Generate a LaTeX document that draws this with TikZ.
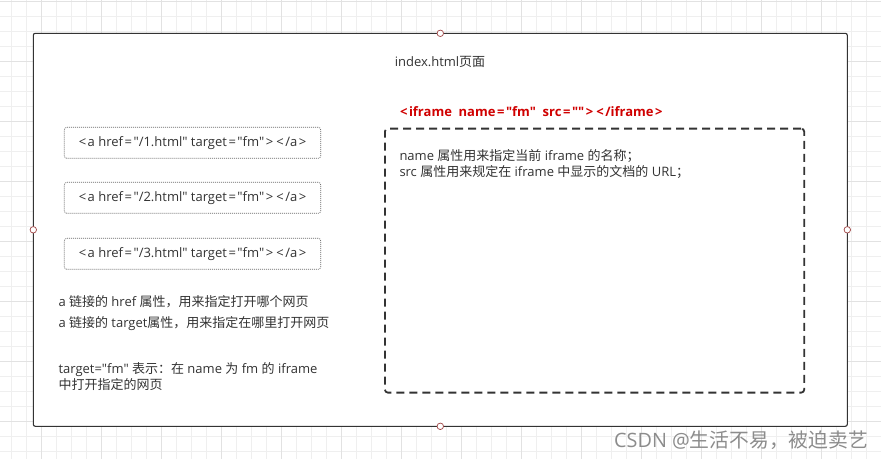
\documentclass[tikz,border=0pt]{standalone}
\usepackage{fontspec}
\setmainfont{Open Sans}[Ligatures=TeXOff]
\newfontfamily\cjk{Noto Sans CJK SC}[Ligatures=TeXOff]
\newcommand{\zh}[1]{{\cjk #1}}
\newcommand{\ws}[1]{\makebox[10.5pt]{#1}}
\definecolor{txt}{HTML}{333333}
\definecolor{gridminor}{HTML}{EFEFEF}
\definecolor{gridmajor}{HTML}{E2E2E2}
\definecolor{portred}{HTML}{A04545}
\definecolor{ifred}{HTML}{D00000}
\definecolor{wm}{HTML}{8C8C8C}
\tikzset{
  gminor/.style={draw=gridminor, line width=0.8pt},
  gmajor/.style={draw=gridmajor, line width=0.9pt},
  pagebox/.style={draw=txt, fill=white, line width=1.1pt, rounded corners=2pt, inner sep=0pt, outer sep=0pt},
  port/.style={circle, draw=portred, fill=white, line width=0.7pt, minimum size=6.5pt, inner sep=0pt},
  linkbox/.style={draw=black!60, dash pattern=on 1pt off 1pt, line width=0.7pt, rounded corners=2.5pt,
     minimum width=256.4pt, minimum height=31pt, inner sep=0pt, text=txt, font=\fontsize{13}{15}\selectfont},
  framebox/.style={draw=txt, dash pattern=on 8pt off 5pt, line width=1.8pt, rounded corners=3pt,
     minimum width=419.3pt, minimum height=264pt, inner sep=0pt},
  plain/.style={text=txt, inner sep=0pt, align=left, font=\fontsize{13}{16}\selectfont},
}
\begin{document}
\begin{tikzpicture}[x=1pt,y=-1pt]
\useasboundingbox (0,0) rectangle (881,459);
\fill[white] (0,0) rectangle (881,459);
% grid
\foreach \i in {0,...,58} \draw[gminor] (11.7+15*\i,0) -- (11.7+15*\i,459);
\foreach \i in {0,...,30} \draw[gminor] (0,1.7+15*\i) -- (881,1.7+15*\i);
\foreach \i in {0,...,13} \draw[gmajor] (41.7+60*\i,0) -- (41.7+60*\i,459);
\foreach \i in {0,...,7} \draw[gmajor] (0,1.7+60*\i) -- (881,1.7+60*\i);
% page
\node[pagebox, minimum width=814pt, minimum height=393pt, anchor=north west] (page) at (33.3,33.3) {};
\node[port] (pn) at (page.north) {};
\node[port] (ps) at (page.south) {};
\node[port] (pw) at (page.west) {};
\node[port] (pe) at (page.east) {};
\node[plain] (title) at (440,62) {index.html\zh{页面}};
% links
\node[linkbox] (l1) at (192.5,142.8) {\ws{<}a href\ws{=}"/1.html" target\ws{=}"fm"\ws{>}\ws{<}/a\ws{>}};
\node[linkbox] (l2) at (192.5,197.8) {\ws{<}a href\ws{=}"/2.html" target\ws{=}"fm"\ws{>}\ws{<}/a\ws{>}};
\node[linkbox] (l3) at (192.5,253.8) {\ws{<}a href\ws{=}"/3.html" target\ws{=}"fm"\ws{>}\ws{<}/a\ws{>}};
% iframe
\node[anchor=west, text=ifred, inner sep=0pt, font=\fontsize{13}{15}\selectfont\bfseries] (ift) at (398.3,111.7) {\ws{<}iframe\ \ name\ws{=}"fm"\ \ src\ws{=}""\ws{>}\ws{<}/iframe\ws{>}};
\node[framebox, anchor=north west] (frame) at (384,127.7) {};
\node[plain, anchor=west] (fdesc) at (399.3,163.7) {name \zh{属性用来指定当前} iframe \zh{的名称；}\\src \zh{属性用来规定在} iframe \zh{中显示的文档的} URL\zh{；}};
% notes
\node[plain, anchor=west] (n1) at (58.3,301.7) {a \zh{链接的} href \zh{属性，用来指定打开哪个网页}};
\node[plain, anchor=west] (n2) at (58.3,324) {a \zh{链接的} target\zh{属性，用来指定在哪里打开网页}};
\node[plain, anchor=west] (n3) at (58.3,376.3) {target="fm" \zh{表示：在} name \zh{为} fm \zh{的} iframe\\\zh{中打开指定的网页}};
% watermark
\node[anchor=west, text=wm, inner sep=0pt, font=\fontsize{19.8}{22}\selectfont] (wmk) at (614,440) {CSDN @\zh{生活不易，被迫卖艺}};
\end{tikzpicture}
\end{document}
